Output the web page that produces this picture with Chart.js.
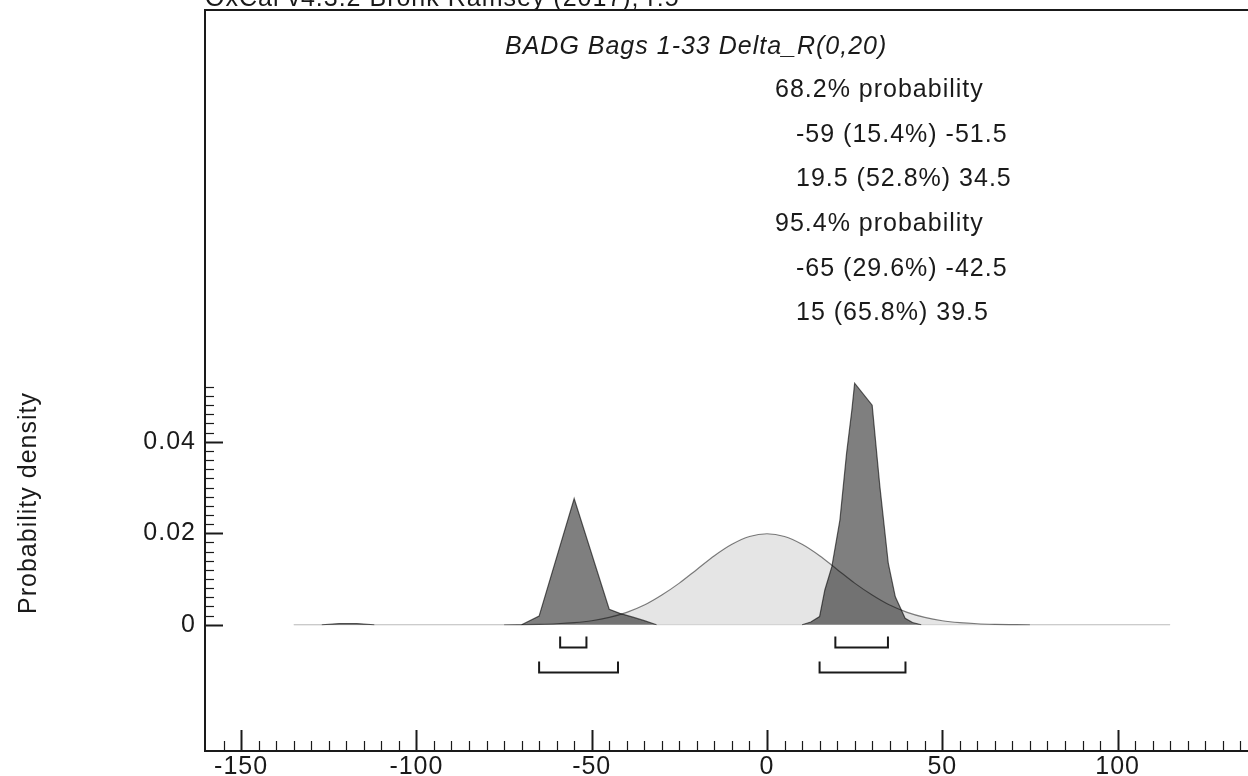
<!DOCTYPE html>
<html>
<head>
<meta charset="utf-8">
<title>BADG Bags 1-33 Delta_R(0,20)</title>
<script src="https://cdn.jsdelivr.net/npm/chart.js@4/dist/chart.umd.min.js"></script>
<style>
  html, body { margin: 0; padding: 0; background: #ffffff; }
  #wrap { width: 1248px; height: 776px; }
</style>
</head>
<body>
<div id="wrap"><canvas id="chart" width="1248" height="776"></canvas></div>
<script>
// Axis tick labels
const xTicks = [-150, -100, -50, 0, 50, 100];
const yTicks = [0, 0.02, 0.04];

// Prior distribution R(0,20)
const priorX = [-135, -130, -125, -120, -115, -110, -105, -100, -95, -90, -85, -80, -75,
  -70, -65, -60, -55, -50, -45, -40, -35, -30, -25, -20, -15, -10, -5, 0,
  5, 10, 15, 20, 25, 30, 35, 40, 45, 50, 55, 60, 65, 70,
  75, 80, 85, 90, 95, 100, 105, 110, 115];
const priorY = [0, 0, 0, 0, 0, 0, 0, 0, 0, 0, 0, 0, 0,
  0.00004, 0.0001, 0.00022, 0.00046, 0.00088, 0.0016, 0.0027, 0.0043, 0.0065, 0.0091, 0.0121, 0.0151, 0.0176, 0.0193, 0.0199,
  0.0193, 0.0176, 0.0151, 0.0121, 0.0091, 0.0065, 0.0043, 0.0027, 0.0016, 0.00088, 0.00046, 0.00022, 0.0001, 0.00004,
  0, 0, 0, 0, 0, 0, 0, 0, 0];

// Posterior distribution
const postX = [-135, -127, -122, -117, -112, -70, -65, -55, -45, -42, -38, -35, -31.5,
  10, 12.5, 15, 16.5, 18.5, 20.8, 22.7, 24.2, 25, 30, 32.2, 34.6, 36.6, 39.4, 41.5, 44, 115];
const postY = [0, 0, 0.00025, 0.00025, 0, 0, 0.0019, 0.0276, 0.0034, 0.0025, 0.0016, 0.0009, 0,
  0, 0.0006, 0.0018, 0.0076, 0.0127, 0.0229, 0.0375, 0.0469, 0.0528, 0.048, 0.0302, 0.0134, 0.0061, 0.0014, 0.0005, 0, 0];

// Highest posterior density ranges
const range68 = [[-59, -51.5], [19.5, 34.5]];
const pct68 = [15.4, 52.8];
const range95 = [[-65, -42.5], [15, 39.5]];
const pct95 = [29.6, 65.8];

const headerText = 'OxCal v4.3.2 Bronk Ramsey (2017); r:5';
const seriesName = 'BADG Bags 1-33 Delta_R(0,20)';
const yTitle = 'Probability density';

const FONT = '"Liberation Sans", Arial, Helvetica, sans-serif';
const INK = '#1a1a1a';

const toPoints = (xs, ys) => xs.map((v, i) => ({ x: v, y: ys[i] }));
const fmtRange = (r, p) => `${r[0]} (${p.toFixed(1)}%) ${r[1]}`;
// outline colour: faint where the curve lies flat on zero
const outline = strong => ({
  borderColor: c => (c.p0.parsed.y === 0 && c.p1.parsed.y === 0) ? 'rgba(0,0,0,0.14)' : strong
});

const spacing = {
  id: 'spacing',
  beforeUpdate(chart) { chart.ctx.letterSpacing = '1px'; },
  beforeDraw(chart) { chart.ctx.letterSpacing = '1px'; }
};

const decor = {
  id: 'decor',
  afterDraw(chart) {
    const { ctx, chartArea: a, scales: { x, y } } = chart;
    ctx.save();
    ctx.letterSpacing = '1px';
    ctx.strokeStyle = INK;
    ctx.lineCap = 'butt';

    // frame
    ctx.lineWidth = 2;
    ctx.beginPath();
    ctx.moveTo(a.right, a.top);
    ctx.lineTo(a.left, a.top);
    ctx.lineTo(a.left, a.bottom);
    ctx.lineTo(a.right, a.bottom);
    ctx.stroke();

    // x ticks, pointing into the plot
    for (let v = -155; v <= x.max; v += 5) {
      const px = Math.round(x.getPixelForValue(v)) + 0.5;
      const major = v % 50 === 0;
      ctx.lineWidth = major ? 2 : 1.2;
      ctx.beginPath();
      ctx.moveTo(px, a.bottom);
      ctx.lineTo(px, a.bottom - (major ? 21 : 10));
      ctx.stroke();
    }

    // y ticks, pointing into the plot
    for (let i = 0; i <= 26; i++) {
      const py = Math.round(y.getPixelForValue(i * 0.002)) + 0.5;
      const major = i % 10 === 0;
      ctx.lineWidth = major ? 2 : 1.2;
      ctx.beginPath();
      ctx.moveTo(a.left, py);
      ctx.lineTo(a.left + (major ? 18 : 9), py);
      ctx.stroke();
    }

    // range brackets under the distribution
    const y0 = y.getPixelForValue(0);
    const bracket = (r, off) => {
      const x1 = x.getPixelForValue(r[0]);
      const x2 = x.getPixelForValue(r[1]);
      const yb = Math.round(y0 + off) + 0.5;
      ctx.beginPath();
      ctx.moveTo(x1, yb - 11);
      ctx.lineTo(x1, yb);
      ctx.lineTo(x2, yb);
      ctx.lineTo(x2, yb - 11);
      ctx.stroke();
    };
    ctx.lineWidth = 2;
    range68.forEach(r => bracket(r, 22));
    range95.forEach(r => bracket(r, 47));

    // texts
    ctx.fillStyle = INK;
    ctx.textAlign = 'left';
    ctx.textBaseline = 'alphabetic';
    ctx.font = `25px ${FONT}`;
    ctx.fillText(headerText, 205, 6);

    ctx.font = `italic 25px ${FONT}`;
    ctx.fillText(seriesName, 505, 54);

    ctx.font = `25px ${FONT}`;
    ctx.fillText('68.2% probability', 775, 97);
    ctx.fillText(fmtRange(range68[0], pct68[0]), 796, 142);
    ctx.fillText(fmtRange(range68[1], pct68[1]), 796, 186);
    ctx.fillText('95.4% probability', 775, 231);
    ctx.fillText(fmtRange(range95[0], pct95[0]), 796, 276);
    ctx.fillText(fmtRange(range95[1], pct95[1]), 796, 320);

    // vertical axis title
    ctx.save();
    ctx.translate(36, 503);
    ctx.rotate(-Math.PI / 2);
    ctx.textAlign = 'center';
    ctx.fillText(yTitle, 0, 0);
    ctx.restore();

    ctx.restore();
  }
};

new Chart(document.getElementById('chart'), {
  type: 'line',
  data: {
    datasets: [
      {
        label: 'Prior',
        data: toPoints(priorX, priorY),
        borderColor: 'rgba(0,0,0,0.5)',
        borderWidth: 1.2,
        backgroundColor: 'rgba(0,0,0,0.1)',
        fill: 'origin',
        pointRadius: 0,
        cubicInterpolationMode: 'monotone',
        segment: outline('rgba(0,0,0,0.5)')
      },
      {
        label: 'Posterior',
        data: toPoints(postX, postY),
        borderColor: 'rgba(0,0,0,0.6)',
        borderWidth: 1.2,
        backgroundColor: 'rgba(0,0,0,0.5)',
        fill: 'origin',
        pointRadius: 0,
        tension: 0,
        segment: outline('rgba(0,0,0,0.6)')
      }
    ]
  },
  options: {
    responsive: false,
    animation: false,
    devicePixelRatio: 1,
    layout: { padding: { left: 0, right: 0, top: 10, bottom: 0 } },
    plugins: { legend: { display: false }, tooltip: { enabled: false }, title: { display: false } },
    scales: {
      x: {
        type: 'linear',
        min: -160.3,
        max: 137.2,
        grid: { display: false, drawTicks: false },
        border: { display: false },
        afterBuildTicks: s => { s.ticks = xTicks.map(v => ({ value: v })); },
        afterFit: s => { s.height = 25; s.paddingLeft = 0; s.paddingRight = 0; },
        ticks: {
          autoSkip: false,
          maxRotation: 0,
          padding: 1,
          color: INK,
          font: { family: FONT, size: 25 },
          callback: v => String(v)
        }
      },
      y: {
        type: 'linear',
        min: -0.0276,
        max: 0.1344,
        grid: { display: false, drawTicks: false },
        border: { display: false },
        afterBuildTicks: s => { s.ticks = yTicks.map(v => ({ value: v })); },
        afterFit: s => { s.width = 205; s.paddingTop = 0; s.paddingBottom = 0; },
        ticks: {
          autoSkip: false,
          padding: 9,
          color: INK,
          font: { family: FONT, size: 25 },
          callback: v => String(v)
        }
      }
    }
  },
  plugins: [spacing, decor]
});
</script>
</body>
</html>
